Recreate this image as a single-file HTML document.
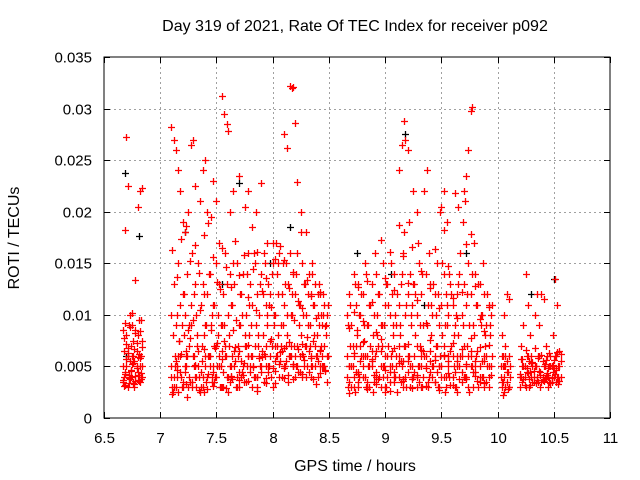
<!DOCTYPE html>
<html><head><meta charset="utf-8"><style>
html,body{margin:0;padding:0;background:#fff}
svg{display:block}
text{font-family:"Liberation Sans",sans-serif;fill:#000}
</style></head><body>
<svg id="chart" width="640" height="480">
<text x="355" y="31" font-size="16" text-anchor="middle">Day 319 of 2021, Rate Of TEC Index for receiver p092</text>
<text x="0" y="0" font-size="16" text-anchor="middle" transform="translate(19,238) rotate(-90)">ROTI / TECUs</text>
<text x="355" y="471" font-size="16" text-anchor="middle">GPS time / hours</text>
<g id="grid"></g>
<g id="marks"></g>
<rect x="104" y="57" width="506" height="361" fill="none" stroke="#000" stroke-width="1"/>
<g id="ticks"></g>
</svg>
<script>
const xTicks=[6.5,7,7.5,8,8.5,9,9.5,10,10.5,11];
const xTickLabels=["6.5","7","7.5","8","8.5","9","9.5","10","10.5","11"];
const yTicks=[0,0.005,0.01,0.015,0.02,0.025,0.03,0.035];
const yTickLabels=["0","0.005","0.01","0.015","0.02","0.025","0.03","0.035"];
// times (hours) and ROTI in milli-TECU (×1e-3)
const tA=[6.67,6.68,6.69,6.70,6.71,6.72,6.73,6.74,6.75,6.76,6.77,6.78,6.79,6.80,6.81,6.82,6.83,6.84,6.67,6.69,6.71,6.73,6.75,6.77,6.79,6.81,6.83,6.68,6.70,6.72,6.74,6.76,6.78,6.80,6.82,6.84,6.70,6.71,6.80,6.82,6.84,6.78,6.69];
const rA=[3.5,4,3.2,5,6,4.2,3.8,7,9,3.4,5.5,4.1,6.5,8,3.6,5,4.4,7.5,8.5,9.2,6.8,10,5.2,3.3,4.8,6.2,9.5,3.1,7.2,3.9,4.6,6,8.2,3.7,5.8,4,27.2,22.5,20.5,22,22.3,13.4,18.2];
const tA2=[6.67,6.68,6.69,6.70,6.71,6.72,6.73,6.74,6.75,6.76,6.77,6.78,6.79,6.80,6.81,6.82,6.83,6.84];
const rA2=[5,6.5,4.5,8,3,9,5.5,4,6,7.5,3,8.5,5,4.5,9.5,3.5,6,5];
const rA3=[3.7,7.8,4.3,5.7,6.3,3.4,8.8,4.7,10.2,5.3,6.7,3.6,7.3,5.9,4.2,8.4,3.8,6.9];
const tB1=[7.10,7.12,7.14,7.16,7.18,7.20,7.22,7.24,7.26,7.28,7.30,7.32,7.34,7.36,7.38,7.40,7.42,7.44,7.46,7.48,7.50,7.52,7.54,7.56,7.58,7.60,7.62,7.64,7.66,7.68,7.70,7.72,7.74,7.76,7.78,7.80,7.82,7.84,7.86,7.88,7.90,7.92,7.94,7.96,7.98,8.00,8.02,8.04,8.06,8.08,8.10,8.12,8.14,8.16,8.18,8.20,8.22,8.24,8.26,8.28,8.30,8.32,8.34,8.36,8.38,8.40,8.42,8.44,8.46,8.48];
const rB1=[4,3,5.5,2.5,6,3.5,4.5,2,7,3,5,4,6.5,3,4,5,2.8,6,4,3.5,7,5,3,4.5,6,2.5,5,3.8,6.5,4,3,5.5,4.2,7,3.6,5,6,4,3,5.8,4.5,6.2,3.9,5,7.5,4.8,3.4,6,5.2,4,6.8,5.5,4.2,7,3.8,6,5,4.5,7.2,5.6,4,6.5,5,3.8,7,5.5,4.4,6,5,3.5];
const rB5=[5,4,3,6,4.5,3,5,6,4,3.5,6,3,5,4.5,3,6,4,5,3.5,7,4,6,5,3,7,4,3.5,6,5,3,6.5,4,5,3.5,6,4.5,3,7,4,6,5,3.5,7,4.5,6,3,5.5,7,4,6.5,5,7,3.5,6,5,4,7,6,4,5,7,4.5,6,7.5,5,4,6.5,5,7,6];
const rB7=[10,13,9,15,11,12,10,14,9,16,12,10,15,11,13,9,12,14,10,11,15,13,9,12,16,10,14,11,13,15,9,12,14,10,16,13,11,15,12,10,14,16,11,13,12,15,10,14,16,12,11,15,13,10,14,12,16,11,15,13,10,14,12,11,13,10,12,9,11,10];
const tB2=[7.11,7.13,7.15,7.17,7.19,7.21,7.23,7.25,7.27,7.29,7.31,7.33,7.35,7.37,7.39,7.41,7.43,7.45,7.47,7.49,7.51,7.53,7.55,7.57,7.59,7.61,7.63,7.65,7.67,7.69,7.71,7.73,7.75,7.77,7.79,7.81,7.83,7.85,7.87,7.89,7.91,7.93,7.95,7.97,7.99,8.01,8.03,8.05,8.07,8.09,8.11,8.13,8.15,8.17,8.19,8.21,8.23,8.25,8.27,8.29,8.31,8.33,8.35,8.37,8.39,8.41,8.43,8.45,8.47,8.49];
const rB2=[8,5,10,7.5,9,12,6.5,8.5,11,9.5,13,8,10.5,7,12,9,14,8.5,11,6.8,10,12.5,9,7.5,13,8,11,15,9.5,7,12,10,8,14,11,9,16,10.5,8,13,12,15,9,11,14,10,17,12,9,15,13,10,16,12,9.5,14,11,18,10,13,12,9,15,11,8,13,10,12,9,11];
const rB6=[2.5,6,4,7.5,3,8,5,3,9,6,4,7,2.5,5.5,8,3.5,6,9,5,4,8,3,6.5,9,4,7,5,8.5,3,6,9,4.5,7,5,8,6,4,9,7,5,8,6,10,5,7,9,6,8,7,9,5,8,6,10,7,5,9,8,6,7,9,7,5,8,6,9,7,5,8,6];
const tB3=[7.105,7.145,7.185,7.225,7.265,7.305,7.345,7.385,7.425,7.465,7.505,7.545,7.585,7.625,7.665,7.705,7.745,7.785,7.825,7.865,7.905,7.945,7.985,8.025,8.065,8.105,8.145,8.185,8.225,8.265,8.305,8.345,8.385,8.425,8.465];
const rB3=[3,5,4,6,3.5,5,4,2.5,6,4.5,5,3,6,4,5.5,4.5,3.5,6,5,4,6.5,5,4,7,5.5,4.8,6,5,4.5,6.2,5,4,6,5,4.6];
const rB8=[2.3,4.7,6.2,3.3,7.8,5.1,2.7,6.7,4.3,3.1,7.3,5.7,2.9,4.1,6.9,3.7,5.3,7.1,4.9,2.6,5.9,3.4,7.7,4.6,6.4,3.9,7.4,5.2,6.7,4.3,7.9,5.8,3.3,6.6,4.7];
const rB9=[16.3,13.7,17.4,18.6,15.2,16.8,14.1,17.7,18.9,15.6,13.2,16.5,14.6,12.7,17.2,13.9,15.8,11.7,14.4,16.1,12.3,13.6,10.8,15.4,16.7,15.3,12.6,14.2,11.3,10.7,13.4,11.8,9.7,12.2,8.9];
const tB4=[7.10,7.12,7.14,7.16,7.18,7.20,7.22,7.25,7.27,7.29,7.31,7.35,7.38,7.40,7.42,7.45,7.47,7.50,7.52,7.55,7.57,7.59,7.60,7.62,7.65,7.70,7.75,7.78,7.82,7.85,7.90,7.95,8.00,8.05,8.10,8.13,8.15,8.17,8.18,8.20,8.22,8.25,8.30,8.35,8.40,8.45];
const rB4=[28.2,27,26,24,22,19,18,20,26.5,27,22.5,21,24,25,20,19.5,23,21,17,31.2,29.5,28.5,27.8,20,22,23.5,20.5,22,18.5,20,22.8,17,17,15,27.5,26.2,32.2,32,32.1,28.6,22.9,20,18,14,12,10];
const tC1=[8.66,8.68,8.70,8.72,8.74,8.76,8.78,8.80,8.82,8.84,8.86,8.88,8.90,8.92,8.94,8.96,8.98,9.00,9.02,9.04,9.06,9.08,9.10,9.12,9.14,9.16,9.18,9.20,9.22,9.24,9.26,9.28,9.30,9.32,9.34,9.36,9.38,9.40,9.42,9.44,9.46,9.48,9.50,9.52,9.54,9.56,9.58,9.60,9.62,9.64,9.66,9.68,9.70,9.72,9.74,9.76,9.78,9.80,9.82,9.84,9.86,9.88,9.90,9.92,9.94];
const rC1=[4,5,3,6,4.5,3.5,7,5,4,6,3,5.5,4.2,6.5,3.8,5,4,2.5,6,4.5,5,3.5,6,4,5.5,3,7,4.5,5,3.8,6,4,5,3,6.5,4.8,3.5,5.5,4,6,4.5,3,5,7,4,5.5,3.2,6,4.5,5,3.8,6,4,5,3,6.5,4.5,5.5,3.6,5,4,6,3.5,5,4.2];
const rC5=[6,3.5,5,4,7,3,5.5,4,6,3,5,6.5,3.5,4.5,7,3,5,6,4,3.5,6.5,4,5,7,3.5,5.5,4,6,3,5,4.5,7,3.5,6,4,5,3,6.5,5,3.5,7,5,4,6,3,5,6.5,4,3,6,5,3.5,7,4,6,5,3,4.5,6.5,3.5,5.5,3,6,4,5];
const rC7=[10,12,9,14,11,13,10,12,15,9,11,13,10,14,12,9,15,11,13,10,12,14,9,11,13,16,10,12,14,11,13,10,15,12,9,14,11,13,10,12,15,9,11,14,12,10,13,11,9,12,14,10,13,11,15,12,9,14,11,13,10,12,9,11,10];
const tC2=[8.67,8.69,8.71,8.73,8.75,8.77,8.79,8.81,8.83,8.85,8.87,8.89,8.91,8.93,8.95,8.97,8.99,9.01,9.03,9.05,9.07,9.09,9.11,9.13,9.15,9.17,9.19,9.21,9.23,9.25,9.27,9.29,9.31,9.33,9.35,9.37,9.39,9.41,9.43,9.45,9.47,9.49,9.51,9.53,9.55,9.57,9.59,9.61,9.63,9.65,9.67,9.69,9.71,9.73,9.75,9.77,9.79,9.81,9.83,9.85,9.87,9.89,9.91,9.93,9.95];
const rC2=[9,11,7,13,8.5,10,12,7.5,14,9,11,8,16,10,12,7,9,13,11,15,8,10,12,9,14,18,11,19,10,13,12,17,9,14,22,24,16,11,13,10,12,20,15,9,11,14,12,8,10,13,16,19,21,12,9,14,17,11,13,10,15,8,12,9,11];
const rC6=[3,7,5,2.5,8,4,6,9,3,5,7,2.5,6,8,4,9,5,3,7,6,9,4,2.5,8,5,7,3,6,9,4,8,5,7,3,6,9,4,8,5,7,3,6,8,2.5,9,4,7,5,3,8,6,9,4,7,2.5,5,8,6,3,9,4,7,5,8,6];
const tC3=[8.68,8.72,8.76,8.80,8.84,8.88,8.92,8.96,9.00,9.04,9.08,9.12,9.16,9.20,9.24,9.28,9.32,9.36,9.40,9.44,9.48,9.52,9.56,9.60,9.64,9.68,9.72,9.76,9.80,9.84,9.88,9.92];
const rC3=[5,3,4.5,6,3.5,5,4,6.5,3,5,4.5,6,3.8,5.5,4,3,5,6,4.5,3.5,5,4,6,3.2,5.5,4.5,3.8,6,5,4,5.5,3];
const rC8=[2.4,6.3,4.3,7.4,2.8,5.7,3.3,7.7,4.7,2.6,6.8,5.3,3.6,7.2,2.9,4.2,6.6,3.1,7.6,5.6,2.7,6.1,4.4,7.3,2.5,6.7,5.2,7.8,4.1,6.9,3.4,7.1];
const rC9=[8.7,10.3,12.7,9.4,13.3,11.2,8.3,17.3,13.6,16.1,12.4,18.7,15.7,13.1,16.6,11.4,14.3,9.2,12.6,16.4,10.7,18.2,14.7,11.6,9.7,12.2,16.9,17.8,12.8,9.6,8.4,10.8];
const tC4=[9.12,9.15,9.17,9.18,9.20,9.25,9.28,9.50,9.52,9.55,9.62,9.65,9.70,9.72,9.74,9.76,9.77];
const rC4=[24,26.5,28.8,27,26,22,20,20.5,22,19,21.8,20.5,22,23.5,26,29.8,30.2];
const tD=[10.03,10.04,10.05,10.06,10.07,10.08,10.09,10.10,10.11,10.04,10.06,10.08,10.10,10.05,10.07];
const rD=[4,3,5,2.5,6,3.5,4.5,3,5,8,10,12,11.5,2.2,7];
const rD2=[5,6,3.5,4,3,5.5,2.8,6,4,3.5,5,4.5,3,6,5];
const tE=[10.20,10.22,10.24,10.26,10.28,10.30,10.32,10.34,10.36,10.38,10.40,10.42,10.44,10.46,10.48,10.50,10.52,10.54,10.56,10.21,10.23,10.25,10.27,10.29,10.31,10.33,10.35,10.37,10.39,10.41,10.43,10.45,10.47,10.49,10.51,10.53,10.55];
const rE=[4,3.5,5,4.5,3,6,4,5,3.5,4.5,5.5,3.8,4.2,5,3.5,4.8,6,4,5.5,7,9,14,11,8,5,10,12,9,12,11.5,7,4,6,8,13.5,11,6.5];
const rE2=[3,5,4,6,5.5,4,3.5,5,6,3,4,5,6,3.5,5,4,3.5,5,4,4,5,3,6,4.5,3.5,5,4,6,3.5,5,4,3,5,4.5,6,4,5];
const rE3=[4.3,5.7,3.2,4.8,3.8,5.3,4.6,3.4,5.8,4.2,3.7,5.2,4.4,6.3,3.9,5.6,4.7,3.3,6.2,5.7,3.8,6.6,4.4,3.2,5.4,6.8,3.7,4.6,6.1,3.6,5.6,4.8,3.4,5.1,4.3,6.4,3.6];
const tBlack=[6.69,6.70,6.81,7.22,7.55,7.70,7.98,8.15,8.75,9.05,9.18,9.35,9.72,10.30,10.50];
const rBlack=[23.8,6,17.6,18,13,22.8,15,18.5,16,14,27.5,11,16,12,13.5];

const NS='http://www.w3.org/2000/svg';
const X0=104,X1=610,Y0=418,Y1=57;
function xs(t){return X0+(t-6.5)/(11-6.5)*(X1-X0);}
function ys(v){return Y0-v/0.035*(Y0-Y1);}
function ysMilli(m){return ys(m/1000);}
const grid=document.getElementById('grid'),ticks=document.getElementById('ticks'),marks=document.getElementById('marks');
function ln(p,x1,y1,x2,y2,st,dash){const l=document.createElementNS(NS,'line');l.setAttribute('x1',x1);l.setAttribute('y1',y1);l.setAttribute('x2',x2);l.setAttribute('y2',y2);l.setAttribute('stroke',st);if(dash)l.setAttribute('stroke-dasharray',dash);p.appendChild(l);return l;}
function tx(p,x,y,s,anchor){const t=document.createElementNS(NS,'text');t.setAttribute('x',x);t.setAttribute('y',y);t.setAttribute('font-size','15');t.setAttribute('text-anchor',anchor);t.textContent=s;p.appendChild(t);return t;}
xTicks.forEach((v,i)=>{const x=Math.round(xs(v))+0.5;
 if(i>0&&i<xTicks.length-1){const g=ln(grid,x,Y1,x,Y0,'#a0a0a0','2,3');
 
 }
 ln(ticks,x,Y0,x,Y0-6,'#000');ln(ticks,x,Y1,x,Y1+6,'#000');
 const t=tx(ticks,x,443,xTickLabels[i],'middle');
 
 });
yTicks.forEach((v,i)=>{const y=Math.round(ys(v))+0.5;
 if(i>0&&i<yTicks.length-1){const g=ln(grid,X0,y,X1,y,'#a0a0a0','2,3');
 
 }
 ln(ticks,X0,y,X0+6,y,'#000');ln(ticks,X1,y,X1-6,y,'#000');
 const t=tx(ticks,92,y+5,yTickLabels[i],'end');
 
 });
function plus(tArr,rArr,color,name){let d='';for(let i=0;i<tArr.length;i++){const x=Math.round(xs(tArr[i]))+0.5,y=Math.round(ysMilli(rArr[i]))+0.5;d+=`M${x-3.5} ${y}H${x+3.5}M${x} ${y-3.5}V${y+3.5}`;}
 const p=document.createElementNS(NS,'path');p.setAttribute('d',d);p.setAttribute('stroke',color);p.setAttribute('stroke-width','1.3');p.setAttribute('fill','none');
 
 
 marks.appendChild(p);}
plus(tBlack,rBlack,'#000','black-points');
[[tA,rA],[tA2,rA2],[tA2,rA3],[tB1,rB1],[tB1,rB5],[tB1,rB7],[tB2,rB2],[tB2,rB6],[tB3,rB3],[tB3,rB8],[tB3,rB9],[tB4,rB4],[tC1,rC1],[tC1,rC5],[tC1,rC7],[tC2,rC2],[tC2,rC6],[tC3,rC3],[tC3,rC8],[tC3,rC9],[tC4,rC4],[tD,rD],[tD,rD2],[tE,rE],[tE,rE2],[tE,rE3]].forEach(s=>plus(s[0],s[1],'#ff0000','roti-points'));
</script>
</body></html>
